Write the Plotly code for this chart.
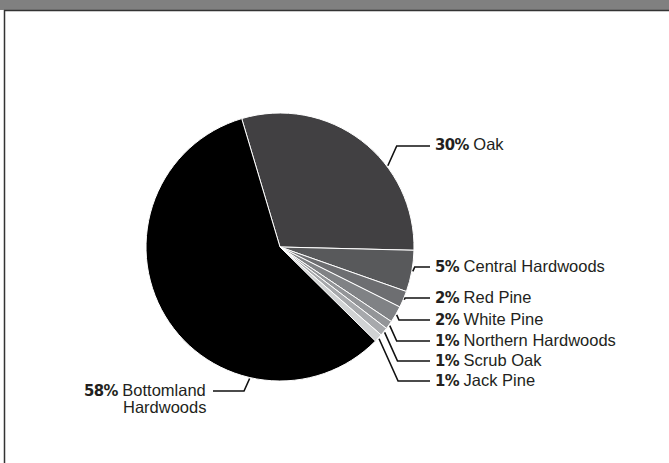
import math
import plotly.graph_objects as go

# ---- data ----
categories = ["Oak", "Central Hardwoods", "Red Pine", "White Pine",
              "Northern Hardwoods", "Scrub Oak", "Jack Pine", "Bottomland Hardwoods"]
values = [30, 5, 2, 2, 1, 1, 1, 58]
label_names = ["Oak", "Central Hardwoods", "Red Pine", "White Pine",
               "Northern Hardwoods", "Scrub Oak", "Jack Pine", "Bottomland\nHardwoods"]

# ---- styles / layout ----
colors = ["#414042", "#58595b", "#6d6e71", "#808285", "#939598", "#a7a9ac", "#d1d3d4", "#000000"]
W, H = 669, 463
CX, CY, R = 280, 247, 134          # pie centre / radius in px
ROTATION = -16.6                   # start of first slice (deg, clockwise from top)
label_y = [146, 267, 298, 320, 341, 361, 381, 391]
label_side = ["r", "r", "r", "r", "r", "r", "r", "l"]
anchor_override = {0: 53, 7: 193}  # leader anchor angles for the large slices
RIGHT_LINE_END, RIGHT_TEXT_X = 430, 433
LEFT_LINE_END, LEFT_TEXT_X = 213, 208
TEXT_COLOR = "#231f20"
PCT_STYLE = "font-family:DejaVu Sans Condensed, DejaVu Sans;font-stretch:condensed;font-weight:bold;letter-spacing:-0.6px"
TXT_FONT = "Liberation Sans, Arial, sans-serif"
FS = 16.5


def px2paper(x, y):
    return x / W, 1 - y / H


fig = go.Figure(go.Pie(
    labels=categories, values=values, sort=False, direction="clockwise",
    rotation=ROTATION, textinfo="none", hoverinfo="label+percent",
    marker=dict(colors=colors, line=dict(color="white", width=1)),
    domain=dict(x=[(CX - R) / W, (CX + R) / W], y=[1 - (CY + R) / H, 1 - (CY - R) / H]),
    showlegend=False,
))

shapes = []
annotations = []
total = sum(values)
start = ROTATION
for i, v in enumerate(values):
    span = v / total * 360
    mid = start + span / 2
    start += span
    ang = anchor_override.get(i, mid)
    ax = CX + (R + 1) * math.sin(math.radians(ang))
    ay = CY - (R + 1) * math.cos(math.radians(ang))
    ly = label_y[i]
    sgn = 1 if label_side[i] == "r" else -1
    ex = ax + sgn * 0.45 * abs(ly - ay)
    end_x = RIGHT_LINE_END if sgn > 0 else LEFT_LINE_END
    path_pts = [(ax, ay), (ex, ly), (end_x, ly)]
    p = [px2paper(*pt) for pt in path_pts]
    path = "M {} {} L {} {} L {} {}".format(p[0][0], p[0][1], p[1][0], p[1][1], p[2][0], p[2][1])
    shapes.append(dict(type="path", xref="paper", yref="paper", path=path,
                       line=dict(color="#111111", width=1.6)))
    pct = "<span style='{}'>{}%</span>".format(PCT_STYLE, v)
    lines = label_names[i].split("\n")
    for j, ln in enumerate(lines):
        txt = (pct + " " + ln) if j == 0 else ln
        tx = RIGHT_TEXT_X if sgn > 0 else LEFT_TEXT_X
        xp, yp = px2paper(tx, ly - 1 + j * 16.7)
        annotations.append(dict(
            x=xp, y=yp, xref="paper", yref="paper", text=txt, showarrow=False,
            xanchor="left" if sgn > 0 else "right", yanchor="middle",
            font=dict(family=TXT_FONT, size=FS, color=TEXT_COLOR),
        ))

# header band and frame
shapes.append(dict(type="rect", xref="paper", yref="paper", x0=0, x1=1,
                   y0=1 - 10 / H, y1=1, fillcolor="#808080", line=dict(width=0), layer="above"))
shapes.append(dict(type="line", xref="paper", yref="paper", x0=4 / W, x1=1,
                   y0=1 - 10.5 / H, y1=1 - 10.5 / H, line=dict(color="#333333", width=1.5)))
shapes.append(dict(type="line", xref="paper", yref="paper", x0=4.5 / W, x1=4.5 / W,
                   y0=0, y1=1 - 10 / H, line=dict(color="#333333", width=1.5)))

fig.update_layout(
    width=W, height=H, margin=dict(l=0, r=0, t=0, b=0),
    paper_bgcolor="white", plot_bgcolor="white",
    shapes=shapes, annotations=annotations,
)
fig.write_html("out.html", config={"displayModeBar": False},
               post_script="document.body.style.margin='0';document.body.style.overflow='hidden';")
